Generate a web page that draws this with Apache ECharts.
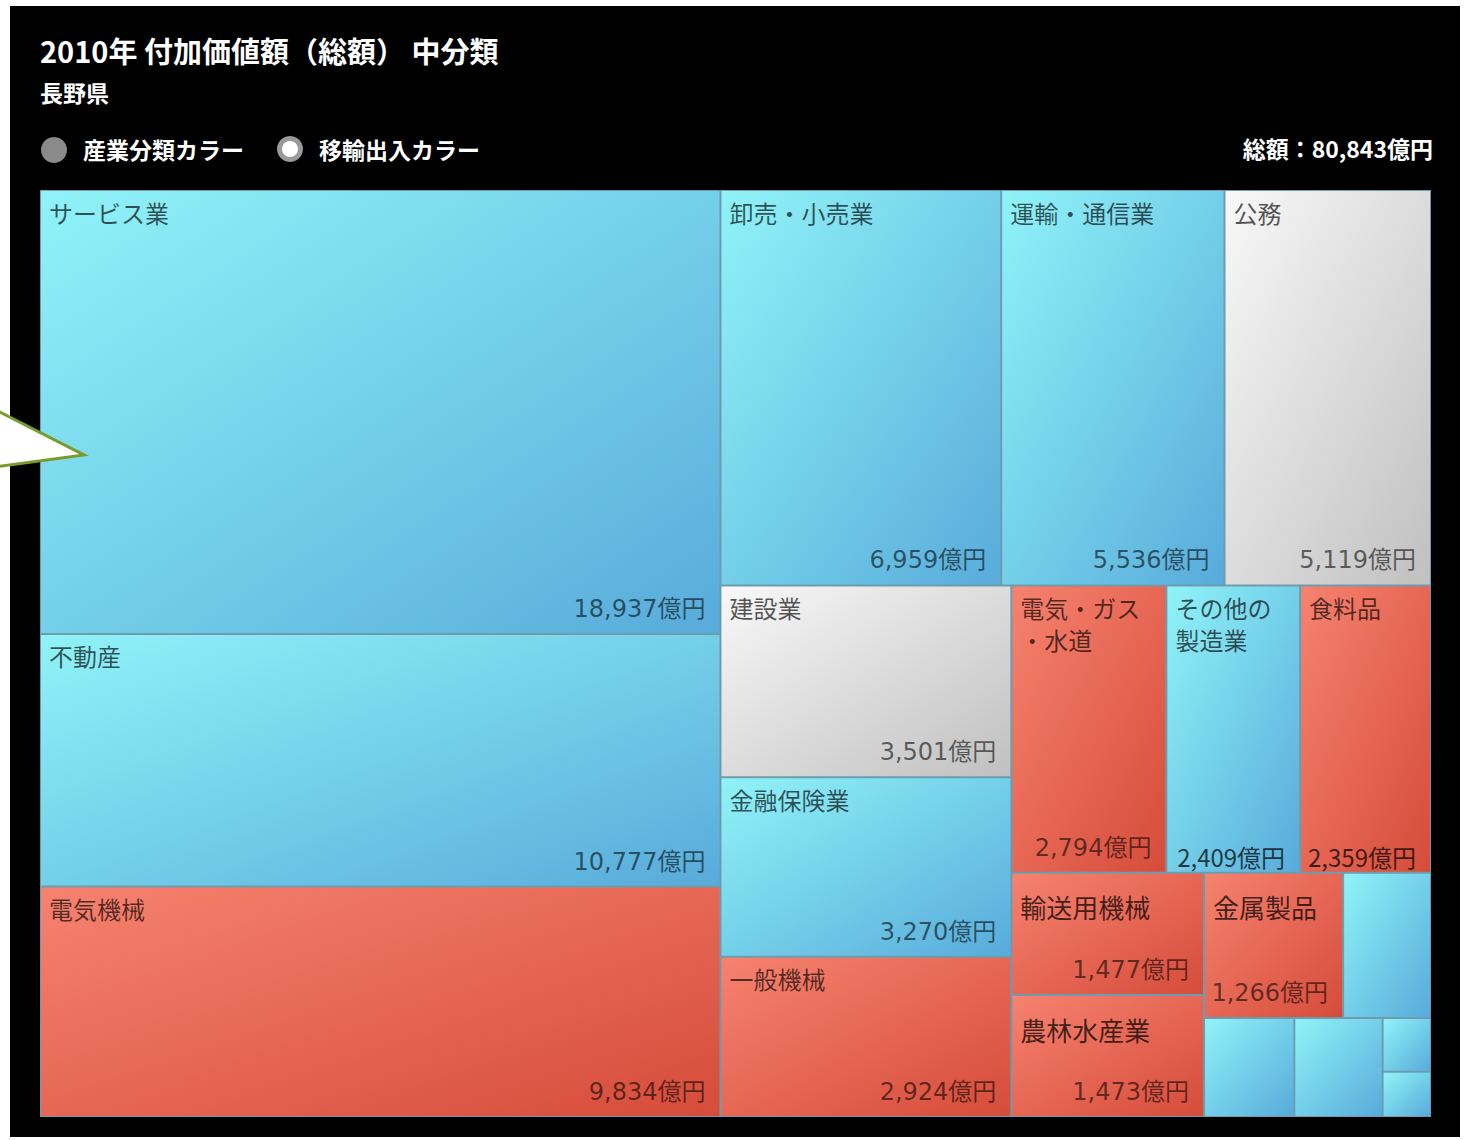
<!DOCTYPE html>
<html>
<head>
<meta charset="utf-8">
<script src="https://cdn.jsdelivr.net/npm/echarts@6/dist/echarts.min.js"></script>
<style>
  html, body { margin: 0; padding: 0; background: #ffffff; }
  #chart { width: 1466px; height: 1140px; }
</style>
</head>
<body>
<div id="chart"></div>
<script>
// 2010年 長野県 付加価値額（総額）中分類, 単位: 億円
const categories = [
  'サービス業', '不動産', '電気機械', '卸売・小売業', '運輸・通信業', '公務',
  '建設業', '金融保険業', '一般機械', '電気・ガス・水道', 'その他の製造業', '食料品',
  '輸送用機械', '農林水産業', '金属製品',
  '窯業・土石製品', '化学', 'パルプ・紙', '繊維', '鉱業'
];
const values = [
  18937, 10777, 9834, 6959, 5536, 5119,
  3501, 3270, 2924, 2794, 2409, 2359,
  1477, 1473, 1266,
  800, 560, 548, 163, 137
];
// 移輸出入カラー: 'in' = 移輸入超過, 'out' = 移輸出超過, 'flat' = 均衡
const balance = [
  'in', 'in', 'out', 'in', 'in', 'flat',
  'flat', 'in', 'out', 'out', 'in', 'out',
  'out', 'out', 'out',
  'in', 'in', 'in', 'in', 'in'
];
const LABEL_MIN = 1000; // 小さな区画はラベルを省略

const JP_FONT = '"Noto Sans CJK JP", "Noto Sans", sans-serif';
const NUM_FONT = '"DejaVu Sans", "Noto Sans CJK JP", sans-serif';

// 一部の区画は大きめの文字で表示
const bigNames = ['輸送用機械', '金属製品', '農林水産業'];
const bigValues = ['その他の製造業', '食料品'];

const palette = {
  in:   ['#90f3f8', '#58abda'],
  out:  ['#f6826f', '#d64c3a'],
  flat: ['#f8f8f8', '#c0c0c0']
};
function fillFor(kind) {
  const c = palette[kind];
  return new echarts.graphic.LinearGradient(0, 0, 1, 1, [
    { offset: 0, color: c[0] },
    { offset: 1, color: c[1] }
  ]);
}
function fmt(v) {
  return v.toString().replace(/\B(?=(\d{3})+(?!\d))/g, ',');
}
const total = values.reduce((a, b) => a + b, 0);

const box = { left: 40, top: 190, width: 1391, height: 927 };

const tileData = categories.map((name, i) => {
  const label = { show: values[i] >= LABEL_MIN };
  if (bigNames.indexOf(name) >= 0) {
    label.fontSize = 26;
    label.padding = [17, 9, 0, 8];
    label.color = 'rgba(0,0,0,0.72)';
  }
  return {
    name: name,
    value: values[i],
    itemStyle: { color: fillFor(balance[i]) },
    label: label
  };
});
const valueData = categories.map((name, i) => {
  const label = { show: values[i] >= LABEL_MIN };
  if (bigValues.indexOf(name) >= 0) {
    label.fontSize = 24;
    label.fontFamily = JP_FONT;
    label.padding = [0, 14, 3, 0];
    label.color = 'rgba(0,0,0,0.72)';
  }
  return { name: name, value: values[i], label: label };
});

const common = {
  type: 'treemap',
  left: box.left, top: box.top, width: box.width, height: box.height,
  roam: false,
  nodeClick: false,
  sort: 'desc',
  breadcrumb: { show: false },
  upperLabel: { show: false },
  emphasis: { disabled: true },
  animation: false
};

const tileBorder = '#6e9cae';

const chart = echarts.init(document.getElementById('chart'), null, { renderer: 'svg' });

chart.setOption({
  backgroundColor: '#ffffff',
  title: {
    text: '2010年 付加価値額（総額） 中分類',
    subtext: '長野県',
    left: 40,
    top: 35,
    padding: 0,
    itemGap: 16,
    textStyle: { color: '#ffffff', fontSize: 29, fontWeight: 'bold', fontFamily: JP_FONT },
    subtextStyle: { color: '#ffffff', fontSize: 23, fontWeight: 'bold', fontFamily: JP_FONT }
  },
  graphic: [
    { type: 'rect', z: -10, silent: true,
      shape: { x: 10, y: 6, width: 1450, height: 1131 },
      style: { fill: '#000000' } },
    { type: 'circle', silent: true, shape: { cx: 54, cy: 150, r: 13 },
      style: { fill: '#8a8a8a' } },
    { type: 'text', silent: true, x: 83, y: 149,
      style: { text: '産業分類カラー', fill: '#ffffff', font: 'bold 23px ' + JP_FONT, textVerticalAlign: 'middle' } },
    { type: 'circle', silent: true, shape: { cx: 290, cy: 149, r: 13 },
      style: { fill: '#9a9a9a' } },
    { type: 'circle', silent: true, shape: { cx: 290, cy: 149, r: 8 },
      style: { fill: '#ffffff' } },
    { type: 'text', silent: true, x: 319, y: 149,
      style: { text: '移輸出入カラー', fill: '#ffffff', font: 'bold 23px ' + JP_FONT, textVerticalAlign: 'middle' } },
    { type: 'text', silent: true, x: 1433, y: 148,
      style: { text: '総額：' + fmt(total) + '億円', fill: '#ffffff', font: 'bold 23px ' + JP_FONT,
               textAlign: 'right', textVerticalAlign: 'middle' } },
    { type: 'polygon', silent: true, z: 100,
      shape: { points: [[-6, 409], [84, 455], [-6, 467]] },
      style: { fill: '#ffffff', stroke: '#7a9a2a', lineWidth: 3 } }
  ],
  series: [
    Object.assign({}, common, {
      name: '付加価値額',
      itemStyle: { borderWidth: 1, borderColor: tileBorder, gapWidth: 0 },
      levels: [
        { itemStyle: { borderWidth: 0, gapWidth: 0 } },
        { itemStyle: { borderWidth: 1, borderColor: tileBorder, gapWidth: 0 } }
      ],
      label: {
        show: true,
        position: 'insideTopLeft',
        distance: 0,
        padding: [5, 9, 0, 8],
        fontSize: 24,
        lineHeight: 32,
        fontFamily: JP_FONT,
        color: 'rgba(0,0,0,0.66)',
        overflow: 'break',
        formatter: '{b}'
      },
      data: tileData
    }),
    Object.assign({}, common, {
      name: '金額',
      silent: true,
      z: 5,
      itemStyle: { color: 'rgba(0,0,0,0)', borderWidth: 1, borderColor: 'rgba(0,0,0,0)', gapWidth: 0 },
      levels: [
        { itemStyle: { borderWidth: 0, gapWidth: 0 } },
        { itemStyle: { color: 'rgba(0,0,0,0)', borderWidth: 1, borderColor: 'rgba(0,0,0,0)', gapWidth: 0 } }
      ],
      label: {
        show: true,
        position: 'insideBottomRight',
        distance: 0,
        padding: [0, 14, 12, 0],
        fontSize: 24,
        fontFamily: NUM_FONT,
        color: 'rgba(0,0,0,0.58)',
        overflow: 'none',
        formatter: p => fmt(p.value) + '億円'
      },
      data: valueData
    })
  ]
});
</script>
</body>
</html>
